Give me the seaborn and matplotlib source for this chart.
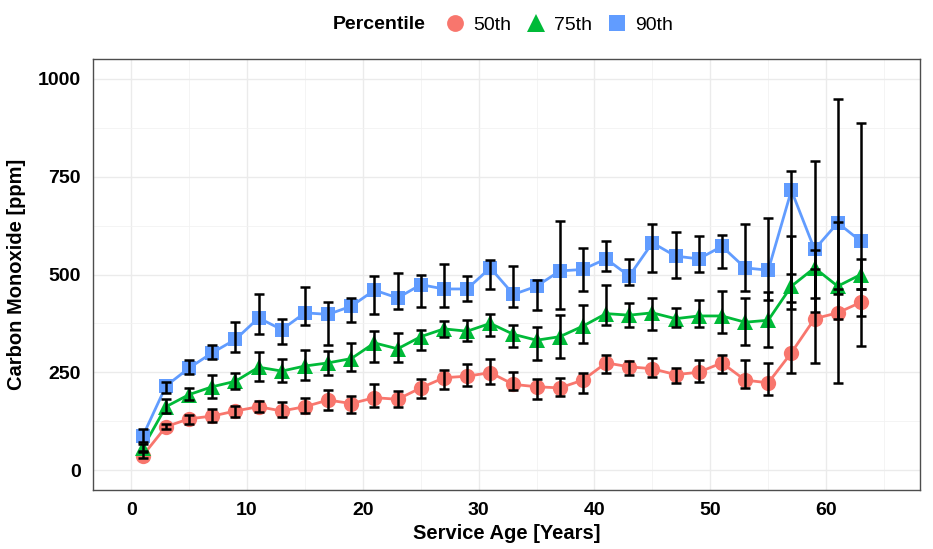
import matplotlib
matplotlib.use("Agg")
import matplotlib.pyplot as plt
from matplotlib.ticker import MultipleLocator
from matplotlib.lines import Line2D
import seaborn as sns
import pandas as pd

# service age (years)
ages = [1, 3, 5, 7, 9, 11, 13, 15, 17, 19, 21, 23, 25, 27, 29, 31,
        33, 35, 37, 39, 41, 43, 45, 47, 49, 51, 53, 55, 57, 59, 61, 63]

p50 = [37, 111, 131, 138, 151, 162, 151, 162, 179, 170, 185, 181, 210, 236, 240, 249,
       219, 213, 210, 230, 274, 264, 259, 244, 250, 274, 230, 223, 300, 387, 402, 429]
p50_lo = [30, 106, 117, 123, 136, 149, 135, 145, 153, 147, 162, 162, 185, 208, 215, 219,
          204, 182, 189, 198, 249, 244, 238, 223, 225, 247, 210, 193, 249, 274, 385, 393]
p50_hi = [47, 117, 142, 155, 165, 176, 174, 185, 204, 189, 219, 202, 232, 256, 270, 283,
          250, 232, 236, 249, 293, 279, 287, 262, 281, 293, 281, 274, 599, 514, 463, 463]

p75 = [57, 162, 193, 213, 227, 263, 253, 266, 274, 285, 325, 310, 341, 361, 355, 375,
       347, 332, 341, 368, 400, 396, 402, 387, 394, 394, 378, 383, 470, 517, 470, 500]
p75_lo = [49, 145, 179, 185, 208, 227, 225, 230, 243, 253, 276, 276, 308, 341, 330, 342,
          315, 281, 287, 324, 370, 366, 358, 366, 366, 351, 319, 315, 412, 440, 451, 463]
p75_hi = [66, 181, 210, 242, 249, 302, 283, 308, 304, 325, 355, 351, 359, 381, 383, 400,
          370, 366, 396, 423, 472, 426, 440, 414, 434, 457, 440, 455, 502, 563, 634, 540]

p90 = [87, 215, 261, 300, 334, 389, 359, 402, 398, 419, 460, 440, 474, 463, 463, 517,
       449, 470, 509, 513, 540, 496, 581, 547, 540, 572, 517, 511, 715, 564, 632, 585]
p90_lo = [72, 198, 245, 283, 302, 349, 323, 370, 321, 378, 398, 412, 417, 417, 432, 463,
          417, 409, 412, 457, 509, 472, 506, 491, 506, 517, 457, 436, 430, 405, 223, 317]
p90_hi = [106, 226, 281, 319, 378, 449, 385, 468, 430, 440, 496, 504, 498, 528, 496, 538,
          523, 485, 636, 568, 585, 540, 630, 608, 598, 602, 630, 645, 764, 790, 950, 888]

labels = ["50th", "75th", "90th"]
colors = ["#F8766D", "#00BA38", "#619CFF"]
markers = ["o", "^", "s"]
msizes = [11, 12, 10.5]

frames = []
for lab, val, lo, hi in zip(labels, [p50, p75, p90], [p50_lo, p75_lo, p90_lo], [p50_hi, p75_hi, p90_hi]):
    frames.append(pd.DataFrame({"age": ages, "co": val, "lo": lo, "hi": hi, "Percentile": lab}))
df = pd.concat(frames, ignore_index=True)

sns.set_theme(style="whitegrid")
plt.rcParams["font.family"] = ["Liberation Sans", "DejaVu Sans"]
plt.rcParams["text.color"] = "black"
plt.rcParams["axes.labelcolor"] = "black"

fig = plt.figure(figsize=(9.33, 5.49), dpi=100)
ax = fig.add_axes([0.0997, 0.1075, 0.8863, 0.785])

for lab, col, mk, ms in zip(labels, colors, markers, msizes):
    sub = df[df["Percentile"] == lab]
    sns.lineplot(data=sub, x="age", y="co", color=col, lw=2, ax=ax, zorder=2)
    ax.plot(sub["age"], sub["co"], ls="none", marker=mk, ms=ms, color=col,
            markeredgewidth=0, zorder=3)

for lab in labels:
    sub = df[df["Percentile"] == lab]
    ax.errorbar(sub["age"], sub["co"],
                yerr=[sub["co"] - sub["lo"], sub["hi"] - sub["co"]],
                fmt="none", ecolor="black", elinewidth=1.8, capsize=3.5,
                capthick=1.8, zorder=4)

ax.set_xlim(-3.3, 68.1)
ax.set_ylim(-51, 1051)
ax.xaxis.set_major_locator(MultipleLocator(10))
ax.xaxis.set_minor_locator(MultipleLocator(5))
ax.yaxis.set_major_locator(MultipleLocator(250))
ax.yaxis.set_minor_locator(MultipleLocator(125))

ax.grid(which="major", color="#EBEBEB", lw=1.0)
ax.grid(which="minor", color="#F2F2F2", lw=0.6)
ax.set_axisbelow(True)
ax.set_facecolor("white")
for sp in ax.spines.values():
    sp.set_visible(True)
    sp.set_color("#4D4D4D")
    sp.set_linewidth(1.0)

ax.tick_params(axis="both", which="major", length=5, width=1, color="#333333",
               labelsize=14, labelcolor="black", pad=4)
ax.tick_params(axis="both", which="minor", length=0)
for t in ax.get_xticklabels() + ax.get_yticklabels():
    t.set_fontweight("bold")

ax.set_xlabel("Service Age [Years]", fontsize=14.5, fontweight="bold",
              color="black", labelpad=3)
ax.set_ylabel("Carbon Monoxide [ppm]", fontsize=14.5, fontweight="bold",
              color="black", labelpad=8)

# legend on top, title to the left of the keys
handles = [Line2D([], [], ls="none", marker=mk, ms=ms * 1.1, color=col, markeredgewidth=0)
           for col, mk, ms in zip(colors, markers, msizes)]
fig.text(0.357, 0.955, "Percentile", fontsize=14, fontweight="bold",
         color="black", ha="left", va="center")
fig.legend(handles, labels, loc="center left", bbox_to_anchor=(0.467, 0.955),
           ncol=3, frameon=False, fontsize=14, handlelength=1.0,
           handletextpad=0.45, columnspacing=0.75, borderpad=0,
           labelcolor="black")

fig.savefig("out.png", dpi=100)
